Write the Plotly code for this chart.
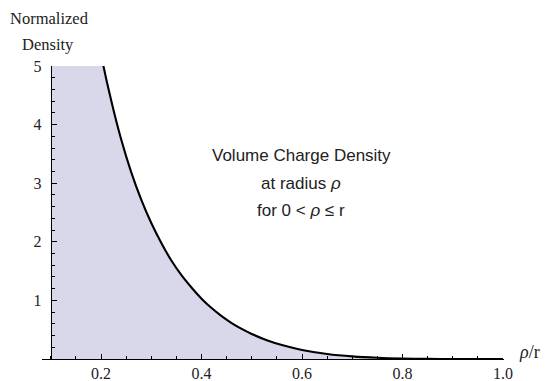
import plotly.graph_objects as go

# curve (values above 5 are clipped off the chart)
rho = [0.10, 0.15, 0.20, 0.22, 0.24, 0.26, 0.28, 0.30, 0.32, 0.34, 0.36, 0.38,
       0.40, 0.42, 0.44, 0.46, 0.48, 0.50, 0.53, 0.56, 0.60, 0.65, 0.70, 0.75,
       0.80, 0.85, 0.90, 0.95, 1.00]
density = [13.4, 8.07, 5.21, 4.42, 3.75, 3.19, 2.72, 2.32, 1.98, 1.68, 1.43, 1.22,
           1.03, 0.87, 0.732, 0.614, 0.513, 0.427, 0.320, 0.237, 0.154, 0.0857, 0.044,
           0.0202, 0.0079, 0.0024, 0.00046, 0.00003, 0.0]

x_tick_vals = [0.2, 0.4, 0.6, 0.8, 1.0]
x_tick_text = ["0.2", "0.4", "0.6", "0.8", "1.0"]
y_tick_vals = [1, 2, 3, 4, 5]
y_tick_text = ["1", "2", "3", "4", "5"]

X_RANGE = [0.0825, 1.002]
Y_RANGE = [0, 5]
axis_x_pos = (0.1 - X_RANGE[0]) / (X_RANGE[1] - X_RANGE[0])

serif = "Liberation Serif, Times New Roman, serif"
sans = "Liberation Sans, Arial, sans-serif"
TXT = "#222"

# page body has an 8px margin, so the figure is offset by 8px
fig = go.Figure()
fig.add_trace(go.Scatter(
    x=rho, y=density, mode="lines",
    line=dict(color="black", width=2.1, shape="spline", smoothing=1.0),
    fill="tozeroy", fillcolor="rgb(216,216,234)",
    hoverinfo="skip", showlegend=False,
))

fig.update_layout(
    width=544, height=373,
    margin=dict(l=34, r=48, t=58, b=22),
    paper_bgcolor="white", plot_bgcolor="white",
    xaxis=dict(
        range=X_RANGE, showgrid=False, zeroline=False, automargin=False,
        showline=True, linecolor="black", linewidth=1,
        ticks="inside", ticklen=5, tickcolor="black", tickwidth=1,
        tickvals=x_tick_vals, ticktext=x_tick_text,
        minor=dict(dtick=0.05, tick0=0, ticks="inside", ticklen=3,
                   tickcolor="black", showgrid=False),
        tickfont=dict(family=serif, size=16, color=TXT),
        ticklabelstandoff=0,
    ),
    yaxis=dict(
        range=Y_RANGE, showgrid=False, zeroline=False, automargin=False,
        anchor="free", position=axis_x_pos,
        showline=True, linecolor="black", linewidth=1,
        ticks="inside", ticklen=5, tickcolor="black", tickwidth=1,
        tickvals=y_tick_vals, ticktext=y_tick_text,
        minor=dict(dtick=0.2, tick0=0, ticks="inside", ticklen=3,
                   tickcolor="black", showgrid=False),
        tickfont=dict(family=serif, size=16, color=TXT),
        ticklabelstandoff=6,
    ),
)

fig.add_annotation(xref="paper", yref="paper", x=0.017, y=1.0, yshift=48,
                   text="Normalized", showarrow=False, xanchor="center", yanchor="middle",
                   font=dict(family=serif, size=16.5, color=TXT))
fig.add_annotation(xref="paper", yref="paper", x=0.013, y=1.0, yshift=22,
                   text="Density", showarrow=False, xanchor="center", yanchor="middle",
                   font=dict(family=serif, size=16.5, color=TXT))
fig.add_annotation(xref="paper", yref="paper", x=1.0, y=0.0, xshift=13, yshift=7,
                   text="<i>ρ</i>/r", showarrow=False, xanchor="left", yanchor="middle",
                   font=dict(family=serif, size=18, color=TXT))

info_lines = ["Volume Charge Density", "at radius <i>ρ</i>", "for 0 &lt; <i>ρ</i> ≤ r"]
info_y = [155, 183, 210]
for line, yy in zip(info_lines, info_y):
    fig.add_annotation(xref="paper", yref="paper", x=(301 - 42) / 462, y=1.0,
                       yshift=66 - yy,
                       text=line, showarrow=False, xanchor="center", yanchor="middle",
                       font=dict(family=sans, size=17, color=TXT))

fig.write_html("out.html")
